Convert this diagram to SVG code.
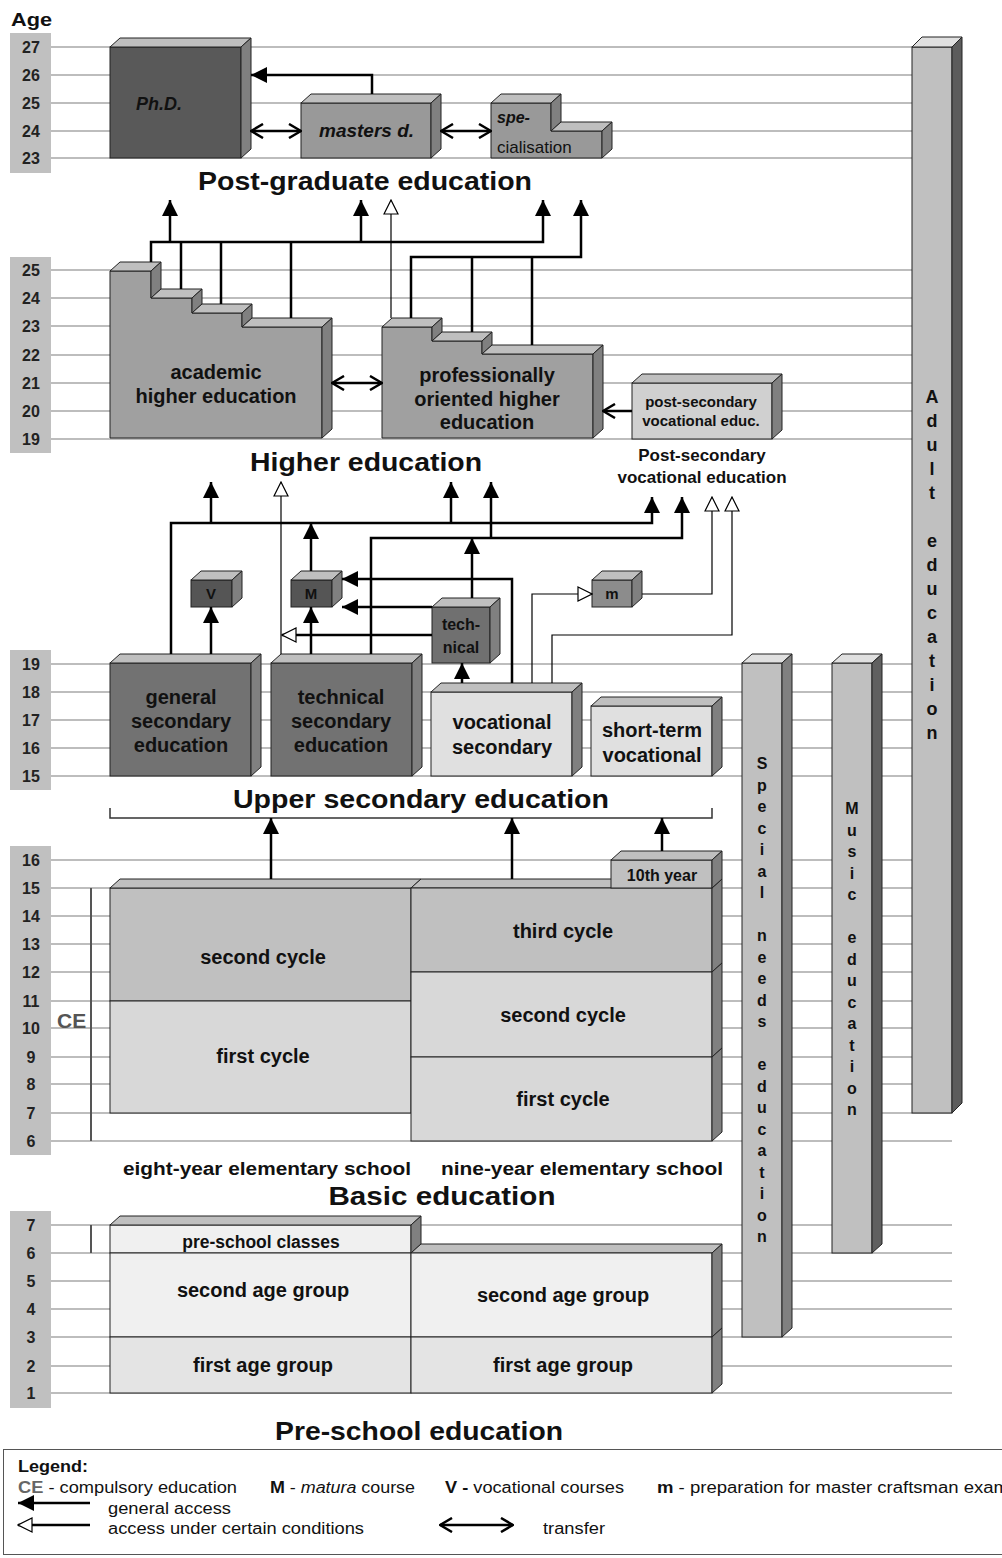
<svg xmlns="http://www.w3.org/2000/svg" width="1002" height="1558" viewBox="0 0 1002 1558">
<style>
.grid{stroke:#a8a8a8;stroke-width:1.5;fill:none}
.age{fill:#c0c0c0}
.num{font-family:'Liberation Sans',Arial,sans-serif;font-weight:bold;font-size:16px;text-anchor:middle;fill:#222}
.bx{stroke:#222;stroke-width:1}
.top{fill:#bfbfbf;stroke:#222;stroke-width:1}
.sd{fill:#808080;stroke:#222;stroke-width:1}
.c{fill:none;stroke:#000;stroke-width:2.5}
.t{fill:none;stroke:#000;stroke-width:1.2}
.l{font-family:'Liberation Sans',Arial,sans-serif;font-weight:bold;text-anchor:middle;fill:#111}
.n20{font-size:20px}
.ttl{font-family:'Liberation Sans',Arial,sans-serif;font-weight:bold;text-anchor:middle;fill:#111;font-size:26px}
.vert{font-family:'Liberation Sans',Arial,sans-serif;font-weight:bold;text-anchor:middle;fill:#111}
.lg{font-family:'Liberation Sans',Arial,sans-serif;font-size:16px;fill:#111}
</style>
<defs>
<marker id="fa" viewBox="0 0 16 16" refX="16" refY="8" markerWidth="16" markerHeight="16" markerUnits="userSpaceOnUse" orient="auto"><path d="M0,0 L16,8 L0,16 z" fill="#000"/></marker>
<marker id="oa" viewBox="-1 -1 16 16" refX="14" refY="7" markerWidth="16" markerHeight="16" markerUnits="userSpaceOnUse" orient="auto"><path d="M0,0 L14,7 L0,14 z" fill="#fff" stroke="#000" stroke-width="1.2"/></marker>
<marker id="ch" viewBox="0 0 14 16" refX="13" refY="8" markerWidth="14" markerHeight="16" markerUnits="userSpaceOnUse" orient="auto-start-reverse"><path d="M1,1 L13,8 L1,15" fill="none" stroke="#000" stroke-width="2.5"/></marker>
</defs>
<rect width="1002" height="1558" fill="#fff"/>

<!-- grid lines -->
<g id="grid">
<path class="grid" d="M51,47H912 M51,75H912 M51,103H912 M51,131H912 M51,158H912
M51,270H912 M51,298H912 M51,326H912 M51,355H912 M51,383H912 M51,411H912 M51,439H912
M51,664H912 M51,692H912 M51,720H912 M51,748H912 M51,776H912
M51,860H912 M51,888H912 M51,916H912 M51,944H912 M51,972H912 M51,1001H912 M51,1028H912 M51,1057H912 M51,1084H912 M51,1113H952 M51,1141H952
M51,1225H952 M51,1253H952 M51,1281H952 M51,1309H952 M51,1337H952 M51,1366H952 M51,1393H952"/>
</g>

<!-- age columns -->
<g id="age-axis">
<text x="11" y="26" font-family="'Liberation Sans',Arial,sans-serif" font-weight="bold" font-size="19" fill="#111" textLength="41" lengthAdjust="spacingAndGlyphs">Age</text>
<rect class="age" x="10" y="33" width="41" height="140"/>
<rect class="age" x="10" y="257" width="41" height="196"/>
<rect class="age" x="10" y="650" width="41" height="140"/>
<rect class="age" x="10" y="846" width="41" height="309"/>
<rect class="age" x="10" y="1211" width="41" height="197"/>
<g class="num">
<text x="31" y="53">27</text><text x="31" y="81">26</text><text x="31" y="109">25</text><text x="31" y="137">24</text><text x="31" y="164">23</text>
<text x="31" y="276">25</text><text x="31" y="304">24</text><text x="31" y="332">23</text><text x="31" y="361">22</text><text x="31" y="389">21</text><text x="31" y="417">20</text><text x="31" y="445">19</text>
<text x="31" y="670">19</text><text x="31" y="698">18</text><text x="31" y="726">17</text><text x="31" y="754">16</text><text x="31" y="782">15</text>
<text x="31" y="866">16</text><text x="31" y="894">15</text><text x="31" y="922">14</text><text x="31" y="950">13</text><text x="31" y="978">12</text><text x="31" y="1007">11</text><text x="31" y="1034">10</text><text x="31" y="1063">9</text><text x="31" y="1090">8</text><text x="31" y="1119">7</text><text x="31" y="1147">6</text>
<text x="31" y="1231">7</text><text x="31" y="1259">6</text><text x="31" y="1287">5</text><text x="31" y="1315">4</text><text x="31" y="1343">3</text><text x="31" y="1372">2</text><text x="31" y="1399">1</text>
</g>
<path d="M91,888V1141 M91,1225V1253" stroke="#555" stroke-width="2" fill="none"/>
<text x="57" y="1028" font-family="'Liberation Sans',Arial,sans-serif" font-weight="bold" font-size="21" fill="#555">CE</text>
</g>

<!-- side bars -->
<g id="adult-education">
<rect x="912" y="47" width="40" height="1066" fill="#c0c0c0" class="bx"/>
<path d="M912,47L922,37H962L952,47Z" fill="#e0e0e0" class="bx"/>
<path d="M952,47L962,37V1103L952,1113Z" fill="#5c5c5c" class="bx"/>
<text class="vert" font-size="18"><tspan x="932" y="403">A</tspan><tspan x="932" dy="24">d</tspan><tspan x="932" dy="24">u</tspan><tspan x="932" dy="24">l</tspan><tspan x="932" dy="24">t</tspan><tspan x="932" dy="48">e</tspan><tspan x="932" dy="24">d</tspan><tspan x="932" dy="24">u</tspan><tspan x="932" dy="24">c</tspan><tspan x="932" dy="24">a</tspan><tspan x="932" dy="24">t</tspan><tspan x="932" dy="24">i</tspan><tspan x="932" dy="24">o</tspan><tspan x="932" dy="24">n</tspan></text>
</g>
<g id="special-needs-education">
<rect x="742" y="663" width="40" height="674" fill="#c0c0c0" class="bx"/>
<path d="M742,663L752,654H792L782,663Z" fill="#e0e0e0" class="bx"/>
<path d="M782,663L792,654V1328L782,1337Z" fill="#808080" class="bx"/>
<text class="vert" font-size="16"><tspan x="762" y="769">S</tspan><tspan x="762" dy="21.5">p</tspan><tspan x="762" dy="21.5">e</tspan><tspan x="762" dy="21.5">c</tspan><tspan x="762" dy="21.5">i</tspan><tspan x="762" dy="21.5">a</tspan><tspan x="762" dy="21.5">l</tspan><tspan x="762" dy="43">n</tspan><tspan x="762" dy="21.5">e</tspan><tspan x="762" dy="21.5">e</tspan><tspan x="762" dy="21.5">d</tspan><tspan x="762" dy="21.5">s</tspan><tspan x="762" dy="43">e</tspan><tspan x="762" dy="21.5">d</tspan><tspan x="762" dy="21.5">u</tspan><tspan x="762" dy="21.5">c</tspan><tspan x="762" dy="21.5">a</tspan><tspan x="762" dy="21.5">t</tspan><tspan x="762" dy="21.5">i</tspan><tspan x="762" dy="21.5">o</tspan><tspan x="762" dy="21.5">n</tspan></text>
</g>
<g id="music-education">
<rect x="832" y="663" width="40" height="590" fill="#c0c0c0" class="bx"/>
<path d="M832,663L842,654H882L872,663Z" fill="#e0e0e0" class="bx"/>
<path d="M872,663L882,654V1244L872,1253Z" fill="#606060" class="bx"/>
<text class="vert" font-size="16"><tspan x="852" y="814">M</tspan><tspan x="852" dy="21.5">u</tspan><tspan x="852" dy="21.5">s</tspan><tspan x="852" dy="21.5">i</tspan><tspan x="852" dy="21.5">c</tspan><tspan x="852" dy="43">e</tspan><tspan x="852" dy="21.5">d</tspan><tspan x="852" dy="21.5">u</tspan><tspan x="852" dy="21.5">c</tspan><tspan x="852" dy="21.5">a</tspan><tspan x="852" dy="21.5">t</tspan><tspan x="852" dy="21.5">i</tspan><tspan x="852" dy="21.5">o</tspan><tspan x="852" dy="21.5">n</tspan></text>
</g>

<!-- post-graduate -->
<g id="phd">
<rect x="110" y="47" width="131" height="111" fill="#595959" class="bx"/>
<path class="top" d="M110,47L120,38H251L241,47Z"/>
<path class="sd" d="M241,47L251,38V149L241,158Z"/>
<text x="136" y="110" font-family="'Liberation Sans',Arial,sans-serif" font-weight="bold" font-style="italic" font-size="18" fill="#111">Ph.D.</text>
</g>
<g id="masters">
<rect x="301" y="103" width="130" height="55" fill="#999" class="bx"/>
<path class="top" d="M301,103L311,94H441L431,103Z"/>
<path class="sd" d="M431,103L441,94V149L431,158Z"/>
<text x="319" y="137" font-family="'Liberation Sans',Arial,sans-serif" font-weight="bold" font-style="italic" font-size="19" fill="#111">masters d.</text>
</g>
<g id="specialisation">
<path d="M491,103H551V131H602V158H491Z" fill="#999" class="bx"/>
<path class="top" d="M491,103L501,94H561L551,103Z"/>
<path class="sd" d="M551,103L561,94V122L551,131Z"/>
<path class="top" d="M551,131L561,122H612L602,131Z"/>
<path class="sd" d="M602,131L612,122V149L602,158Z"/>
<text x="497" y="123" font-family="'Liberation Sans',Arial,sans-serif" font-weight="bold" font-style="italic" font-size="16" fill="#111">spe-</text>
<text x="497" y="153" font-family="'Liberation Sans',Arial,sans-serif" font-size="17" fill="#111">cialisation</text>
</g>
<text class="ttl" x="365" y="190" textLength="334" lengthAdjust="spacingAndGlyphs">Post-graduate education</text>

<!-- higher -->
<g id="academic-higher">
<path d="M110,271H151V298H192V313H242V327H322V438H110Z" fill="#a0a0a0" class="bx"/>
<path class="top" d="M110,271L120,262H161L151,271Z"/>
<path class="sd" d="M151,271L161,262V289L151,298Z"/>
<path class="top" d="M151,298L161,289H202L192,298Z"/>
<path class="sd" d="M192,298L202,289V304L192,313Z"/>
<path class="top" d="M192,313L202,304H252L242,313Z"/>
<path class="sd" d="M242,313L252,304V318L242,327Z"/>
<path class="top" d="M242,327L252,318H332L322,327Z"/>
<path class="sd" d="M322,327L332,318V429L322,438Z"/>
<text class="l n20" x="216" y="379">academic</text>
<text class="l n20" x="216" y="403">higher education</text>
</g>
<g id="professional-higher">
<path d="M382,327H432V341H482V354H593V438H382Z" fill="#a0a0a0" class="bx"/>
<path class="top" d="M382,327L392,318H442L432,327Z"/>
<path class="sd" d="M432,327L442,318V332L432,341Z"/>
<path class="top" d="M432,341L442,332H492L482,341Z"/>
<path class="sd" d="M482,341L492,332V345L482,354Z"/>
<path class="top" d="M482,354L492,345H603L593,354Z"/>
<path class="sd" d="M593,354L603,345V429L593,438Z"/>
<text class="l n20" x="487" y="382">professionally</text>
<text class="l n20" x="487" y="406">oriented higher</text>
<text class="l n20" x="487" y="429">education</text>
</g>
<g id="post-secondary-vocational">
<rect x="632" y="383" width="140" height="56" fill="#d0d0d0" class="bx"/>
<path class="top" d="M632,383L642,374H782L772,383Z"/>
<path class="sd" d="M772,383L782,374V430L772,439Z"/>
<text class="l" font-size="15" x="701" y="407">post-secondary</text>
<text class="l" font-size="15" x="701" y="426">vocational educ.</text>
</g>
<text class="ttl" x="366" y="471" textLength="232" lengthAdjust="spacingAndGlyphs">Higher education</text>
<text class="l" font-size="17" x="702" y="461">Post-secondary</text>
<text class="l" font-size="17" x="702" y="483">vocational education</text>

<!-- upper secondary -->
<g id="general-secondary">
<rect x="110" y="663" width="141" height="113" fill="#727272" class="bx"/>
<path class="top" d="M110,663L120,654H261L251,663Z"/>
<path class="sd" d="M251,663L261,654V767L251,776Z"/>
<text class="l n20" x="181" y="704">general</text>
<text class="l n20" x="181" y="728">secondary</text>
<text class="l n20" x="181" y="752">education</text>
</g>
<g id="technical-secondary">
<rect x="271" y="663" width="141" height="113" fill="#727272" class="bx"/>
<path class="top" d="M271,663L281,654H422L412,663Z"/>
<path class="sd" d="M412,663L422,654V767L412,776Z"/>
<text class="l n20" x="341" y="704">technical</text>
<text class="l n20" x="341" y="728">secondary</text>
<text class="l n20" x="341" y="752">education</text>
</g>
<g id="vocational-secondary">
<rect x="431" y="692" width="141" height="84" fill="#e0e0e0" class="bx"/>
<path class="top" d="M431,692L441,683H582L572,692Z"/>
<path class="sd" d="M572,692L582,683V767L572,776Z"/>
<text class="l n20" x="502" y="729">vocational</text>
<text class="l n20" x="502" y="754">secondary</text>
</g>
<g id="short-term-vocational">
<rect x="591" y="706" width="121" height="70" fill="#e0e0e0" class="bx"/>
<path class="top" d="M591,706L601,697H722L712,706Z"/>
<path class="sd" d="M712,706L722,697V767L712,776Z"/>
<text class="l n20" x="652" y="737">short-term</text>
<text class="l n20" x="652" y="762">vocational</text>
</g>
<g id="technical-course">
<rect x="432" y="607" width="58" height="56" fill="#707070" class="bx"/>
<path class="top" d="M432,607L442,598H500L490,607Z"/>
<path class="sd" d="M490,607L500,598V654L490,663Z"/>
<text class="l" font-size="16" x="461" y="630">tech-</text>
<text class="l" font-size="16" x="461" y="653">nical</text>
</g>
<g id="v-course">
<rect x="191" y="580" width="41" height="27" fill="#555" class="bx"/>
<path class="top" d="M191,580L201,571H242L232,580Z"/>
<path class="sd" d="M232,580L242,571V598L232,607Z"/>
<text class="l" font-size="15" x="211" y="599">V</text>
</g>
<g id="m-matura">
<rect x="291" y="580" width="41" height="27" fill="#555" class="bx"/>
<path class="top" d="M291,580L301,571H342L332,580Z"/>
<path class="sd" d="M332,580L342,571V598L332,607Z"/>
<text class="l" font-size="15" x="311" y="599">M</text>
</g>
<g id="m-master">
<rect x="592" y="580" width="40" height="27" fill="#8c8c8c" class="bx"/>
<path class="top" d="M592,580L602,571H642L632,580Z"/>
<path class="sd" d="M632,580L642,571V598L632,607Z"/>
<text class="l" font-size="15" x="612" y="599">m</text>
</g>
<text class="ttl" x="421" y="808" textLength="376" lengthAdjust="spacingAndGlyphs">Upper secondary education</text>
<path d="M110,808V818H712V808" stroke="#333" stroke-width="1.5" fill="none"/>

<!-- basic -->
<g id="eight-year-school">
<rect x="110" y="888" width="301" height="113" fill="#c0c0c0" class="bx"/>
<rect x="110" y="1001" width="301" height="112" fill="#d8d8d8" class="bx"/>
<path class="top" d="M110,888L120,879H421L411,888Z"/>
<text class="l n20" x="263" y="964">second cycle</text>
<text class="l n20" x="263" y="1063">first cycle</text>
</g>
<g id="nine-year-school">
<path class="top" d="M411,888L421,879H722L712,888Z"/>
<rect x="411" y="888" width="301" height="84" fill="#c0c0c0" class="bx"/>
<rect x="411" y="972" width="301" height="85" fill="#d8d8d8" class="bx"/>
<rect x="411" y="1057" width="301" height="84" fill="#d8d8d8" class="bx"/>
<path class="sd" d="M712,888L722,879V963L712,972Z"/>
<path class="sd" d="M712,972L722,963V1048L712,1057Z"/>
<path class="sd" d="M712,1057L722,1048V1132L712,1141Z"/>
<text class="l n20" x="563" y="938">third cycle</text>
<text class="l n20" x="563" y="1022">second cycle</text>
<text class="l n20" x="563" y="1106">first cycle</text>
</g>
<g id="tenth-year">
<rect x="611" y="860" width="101" height="28" fill="#c0c0c0" class="bx"/>
<path class="top" d="M611,860L621,851H722L712,860Z"/>
<path class="sd" d="M712,860L722,851V879L712,888Z"/>
<text class="l" font-size="16" x="662" y="881">10th year</text>
</g>
<text class="l" font-size="18" x="267" y="1175" textLength="288" lengthAdjust="spacingAndGlyphs">eight-year elementary school</text>
<text class="l" font-size="18" x="582" y="1175" textLength="282" lengthAdjust="spacingAndGlyphs">nine-year elementary school</text>
<text class="ttl" x="442" y="1205" textLength="227" lengthAdjust="spacingAndGlyphs">Basic  education</text>

<!-- pre-school -->
<g id="pre-school-left">
<rect x="110" y="1225" width="301" height="28" fill="#f0f0f0" class="bx"/>
<path class="top" d="M110,1225L120,1216H421L411,1225Z"/>
<path class="sd" d="M411,1225L421,1216V1244L411,1253Z"/>
<rect x="110" y="1253" width="301" height="84" fill="#f0f0f0" class="bx"/>
<rect x="110" y="1337" width="301" height="56" fill="#e4e4e4" class="bx"/>
<text class="l" font-size="17.5" x="261" y="1248">pre-school classes</text>
<text class="l n20" x="263" y="1297">second age group</text>
<text class="l n20" x="263" y="1372">first age group</text>
</g>
<g id="pre-school-right">
<path class="top" d="M411,1253L421,1244H722L712,1253Z"/>
<rect x="411" y="1253" width="301" height="84" fill="#f0f0f0" class="bx"/>
<rect x="411" y="1337" width="301" height="56" fill="#e4e4e4" class="bx"/>
<path class="sd" d="M712,1253L722,1244V1328L712,1337Z"/>
<path class="sd" d="M712,1337L722,1328V1384L712,1393Z"/>
<text class="l n20" x="563" y="1302">second age group</text>
<text class="l n20" x="563" y="1372">first age group</text>
</g>
<text class="ttl" x="419" y="1440" textLength="288" lengthAdjust="spacingAndGlyphs">Pre-school education</text>

<!-- connectors -->
<g id="connectors">
<path class="c" d="M372,94V75H251" marker-end="url(#fa)"/>
<path class="c" d="M251,131H301" marker-start="url(#ch)" marker-end="url(#ch)"/>
<path class="c" d="M441,131H491" marker-start="url(#ch)" marker-end="url(#ch)"/>

<path class="c" d="M151,262V242H543V200" marker-end="url(#fa)"/>
<path class="c" d="M181,289V242 M221,304V242 M291,318V242"/>
<path class="c" d="M170,242V200" marker-end="url(#fa)"/>
<path class="c" d="M361,242V200" marker-end="url(#fa)"/>
<path class="t" d="M391,318V200" marker-end="url(#oa)"/>
<path class="c" d="M411,318V257H581V200" marker-end="url(#fa)"/>
<path class="c" d="M472,332V257 M532,345V257"/>
<path class="c" d="M332,383H382" marker-start="url(#ch)" marker-end="url(#ch)"/>
<path class="c" d="M632,411H603" marker-end="url(#ch)"/>

<path class="c" d="M171,654V523H652V497" marker-end="url(#fa)"/>
<path class="c" d="M211,523V482" marker-end="url(#fa)"/>
<path class="c" d="M451,523V482" marker-end="url(#fa)"/>
<path class="c" d="M311,571V523" marker-end="url(#fa)"/>
<path class="c" d="M371,654V538H682V497" marker-end="url(#fa)"/>
<path class="c" d="M491,538V482" marker-end="url(#fa)"/>
<path class="c" d="M472,598V538" marker-end="url(#fa)"/>
<path class="t" d="M281,654V482" marker-end="url(#oa)"/>
<path class="c" d="M211,654V607" marker-end="url(#fa)"/>
<path class="c" d="M311,654V607" marker-end="url(#fa)"/>
<path class="c" d="M512,683V579H342" marker-end="url(#fa)"/>
<path class="c" d="M432,607H342" marker-end="url(#fa)"/>
<path class="c" d="M432,635H282" marker-end="url(#oa)"/>
<path class="c" d="M462,683V663" marker-end="url(#fa)"/>
<path class="t" d="M532,683V594H592" marker-end="url(#oa)"/>
<path class="t" d="M642,594H712V497" marker-end="url(#oa)"/>
<path class="t" d="M552,683V635H732V497" marker-end="url(#oa)"/>

<path class="c" d="M271,879V818" marker-end="url(#fa)"/>
<path class="c" d="M512,879V818" marker-end="url(#fa)"/>
<path class="c" d="M662,851V818" marker-end="url(#fa)"/>
</g>

<!-- legend -->
<g id="legend">
<rect x="3.5" y="1449.5" width="1100" height="105" fill="none" stroke="#555" stroke-width="1"/>
<text class="lg" x="18" y="1472" font-weight="bold" textLength="70" lengthAdjust="spacingAndGlyphs">Legend:</text>
<text class="lg" x="18" y="1493" textLength="219" lengthAdjust="spacingAndGlyphs"><tspan font-weight="bold" fill="#666">CE</tspan> - compulsory education</text>
<text class="lg" x="270" y="1493" textLength="145" lengthAdjust="spacingAndGlyphs"><tspan font-weight="bold">M</tspan> - <tspan font-style="italic">matura</tspan> course</text>
<text class="lg" x="445" y="1493" textLength="179" lengthAdjust="spacingAndGlyphs"><tspan font-weight="bold">V -</tspan> vocational courses</text>
<text class="lg" x="657" y="1493" textLength="352" lengthAdjust="spacingAndGlyphs"><tspan font-weight="bold">m</tspan> - preparation for master craftsman exam</text>
<path class="c" d="M90,1503H18" marker-end="url(#fa)"/>
<text class="lg" x="108" y="1514" textLength="123" lengthAdjust="spacingAndGlyphs">general access</text>
<path class="c" d="M90,1525H18" stroke-width="2" marker-end="url(#oa)"/>
<text class="lg" x="108" y="1534" textLength="256" lengthAdjust="spacingAndGlyphs">access under certain conditions</text>
<path class="c" d="M440,1525H513" marker-start="url(#ch)" marker-end="url(#ch)"/>
<text class="lg" x="543" y="1534" textLength="62" lengthAdjust="spacingAndGlyphs">transfer</text>
</g>
</svg>
